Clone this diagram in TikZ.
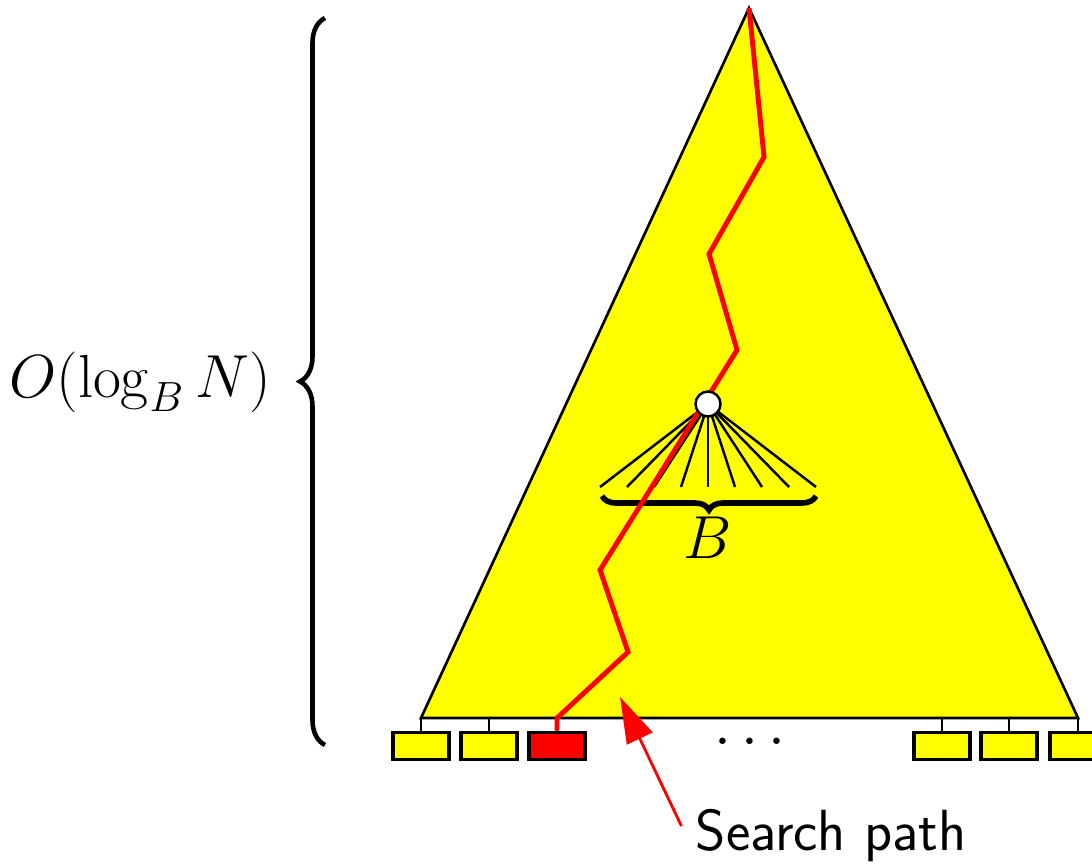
\documentclass[tikz,border=0pt]{standalone}
\usetikzlibrary{arrows.meta,decorations.pathreplacing}
\definecolor{treeyellow}{RGB}{255,255,0}
\definecolor{pathred}{RGB}{255,0,0}

\begin{document}
\begin{tikzpicture}[
  x=0.01cm, y=-0.01cm,
  every node/.style={font=\fontsize{16.5}{19}\selectfont},
  tree/.style={draw, fill=treeyellow, line width=0.75pt},
  leaf/.style={
    draw,
    fill=treeyellow,
    line width=1pt,
    inner sep=0pt,
    minimum width=0.56cm,
    minimum height=0.27cm
  },
  hit/.style={leaf, fill=pathred},
  stub/.style={line width=0.75pt},
  fan/.style={line width=0.7pt},
  hub/.style={circle, draw, fill=white, line width=0.7pt, inner sep=0pt, minimum size=0.25cm},
  route/.style={pathred, line width=1.4pt, line join=miter},
  ptr/.style={-{Triangle[length=0.46cm, width=0.28cm]}, pathred, line width=0.8pt},
  bigbrace/.style={decorate, decoration={brace, amplitude=0.25cm}, line width=1.3pt},
  fanbrace/.style={decorate, decoration={brace, amplitude=0.14cm}, line width=1.6pt}
]
\useasboundingbox (0,0) rectangle (1092,867);

% the tree
\coordinate (top) at (749,8);
\coordinate (bl) at (421,718);
\coordinate (br) at (1078,718);
\draw[tree] (top) -- (bl) -- (br) -- cycle;

% leaves
\node[leaf] (leafA) at (421,746) {};
\node[leaf] (leafB) at (489,746) {};
\node[hit]  (leafC) at (557,746) {};
\node[leaf] (leafX) at (942,746) {};
\node[leaf] (leafY) at (1009,746) {};
\node[leaf] (leafZ) at (1078,746) {};
\foreach \l in {leafA,leafB,leafC,leafX,leafY,leafZ}
  \draw[stub] (\l.north) -- (\l.north |- bl);
\node (dots) at (750,743) {$\cdots$};

% one node and its B children
\coordinate (hubc) at (708,404);
\foreach \i in {0,...,8}
  \draw[fan] (hubc) -- (600+27*\i,487);
\draw[fanbrace] (816,496) -- (602,496);
\node (bsize) at (708,538) {$B$};

% search path
\draw[route] (top) -- (764,157) -- (709,254) -- (737,350) -- (600,570)
  -- (628,652) -- (557,718) -- (leafC.north);
\node[hub] (hub) at (hubc) {};

% height
\draw[bigbrace] (325,745) -- (325,18);
\node (height) at (140,382) {$O(\log_B N)$};

% label
\node[font=\fontsize{16.5}{19}\selectfont\sffamily] (sp) at (831,836) {Search path};
\coordinate (tip) at (620,697);
\draw[ptr] (sp.west) ++(-2,-10) -- (tip);
\end{tikzpicture}
\end{document}
